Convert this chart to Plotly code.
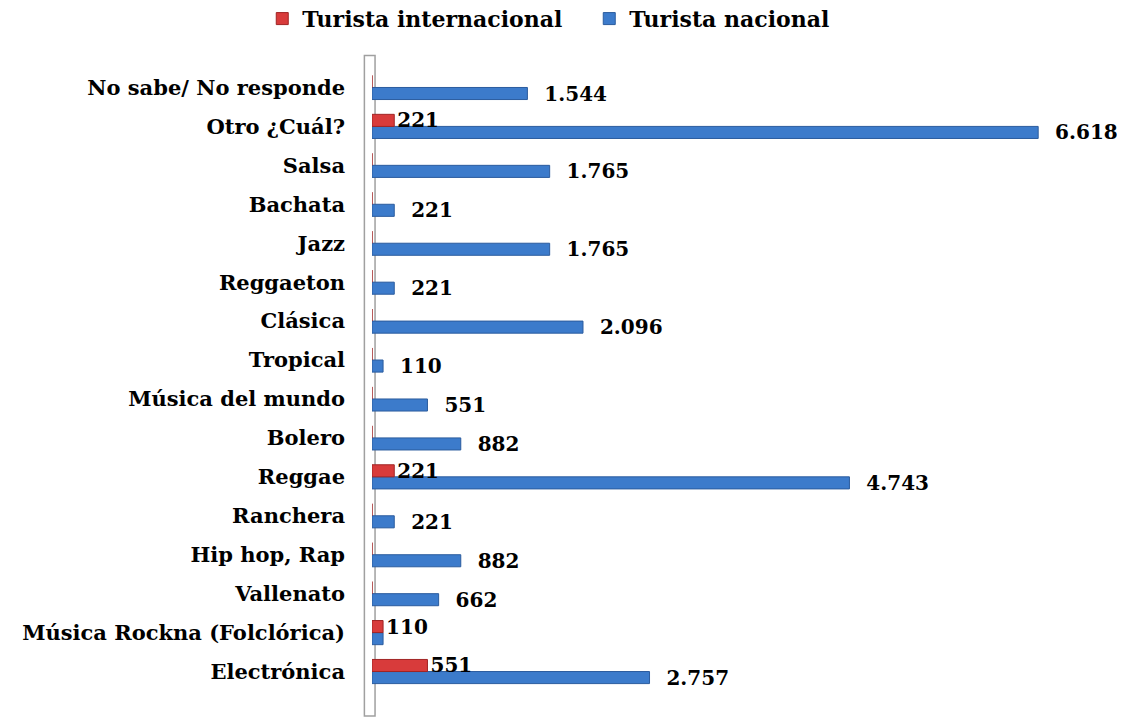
import plotly.graph_objects as go

categorias = [
    "Electrónica",
    "Música Rockna (Folclórica)",
    "Vallenato",
    "Hip hop, Rap",
    "Ranchera",
    "Reggae",
    "Bolero",
    "Música del mundo",
    "Tropical",
    "Clásica",
    "Reggaeton",
    "Jazz",
    "Bachata",
    "Salsa",
    "Otro ¿Cuál?",
    "No sabe/ No responde",
]
nacional = [2757, 110, 662, 882, 221, 4743, 882, 551, 110, 2096, 221, 1765, 221, 1765, 6618, 1544]
internacional = [551, 110, 0, 0, 0, 221, 0, 0, 0, 0, 0, 0, 0, 0, 221, 0]

FONT = "DejaVu Serif"
PAD = "\u00a0\u00a0"


def etiqueta(v):
    # formato con punto de miles, sin etiqueta para ceros
    if v == 0:
        return ""
    return f"{v:,}".replace(",", ".")


# cuando ambos valores son iguales se muestra una sola etiqueta (como en el original)
texto_nac = [
    "" if n == i else PAD + etiqueta(n) for n, i in zip(nacional, internacional)
]
texto_int = [etiqueta(v) for v in internacional]

fig = go.Figure()
fig.add_trace(
    go.Bar(
        name="Turista nacional",
        y=categorias,
        x=nacional,
        orientation="h",
        marker=dict(color="#3C7BCB", line=dict(color="#2B5C9E", width=1)),
        text=texto_nac,
        textposition="outside",
        constraintext="none",
        cliponaxis=False,
        textfont=dict(family=FONT, size=20, color="black"),
    )
)
fig.add_trace(
    go.Bar(
        name="Turista internacional",
        y=categorias,
        x=internacional,
        orientation="h",
        marker=dict(color="#D83B3B", line=dict(color="#A02424", width=1)),
        text=texto_int,
        textposition="outside",
        constraintext="none",
        cliponaxis=False,
        textfont=dict(family=FONT, size=20, color="black"),
    )
)

fig.update_layout(
    width=1125,
    height=719,
    barmode="group",
    bargap=0.38,
    bargroupgap=0,
    plot_bgcolor="white",
    paper_bgcolor="white",
    margin=dict(l=364, r=0, t=60, b=36),
    font=dict(family=FONT, size=20, color="black"),
    legend=dict(
        orientation="h",
        x=0.226,
        xref="container",
        xanchor="left",
        y=0.985,
        yref="container",
        yanchor="middle",
        traceorder="reversed",
        entrywidth=282,
        font=dict(family=FONT, size=22, color="black"),
    ),
    shapes=[
        dict(
            type="rect",
            xref="paper",
            yref="paper",
            x0=-0.01,
            x1=0.004,
            y0=-0.04,
            y1=1.02,
            line=dict(color="#A0A0A0", width=1.5),
            fillcolor="rgba(0,0,0,0)",
            layer="below",
        )
    ],
)
fig.update_xaxes(range=[0, 7560], visible=False, showgrid=False)
fig.update_yaxes(
    showline=False,
    showgrid=False,
    ticks="",
    ticklabelstandoff=26,
    tickfont=dict(family=FONT, size=21, color="black"),
)
# negrita para todos los textos
fig.update_layout(font_weight="bold", legend_font_weight="bold")
fig.update_yaxes(tickfont_weight="bold")
fig.update_traces(textfont_weight="bold")

fig.write_html("out.html")
